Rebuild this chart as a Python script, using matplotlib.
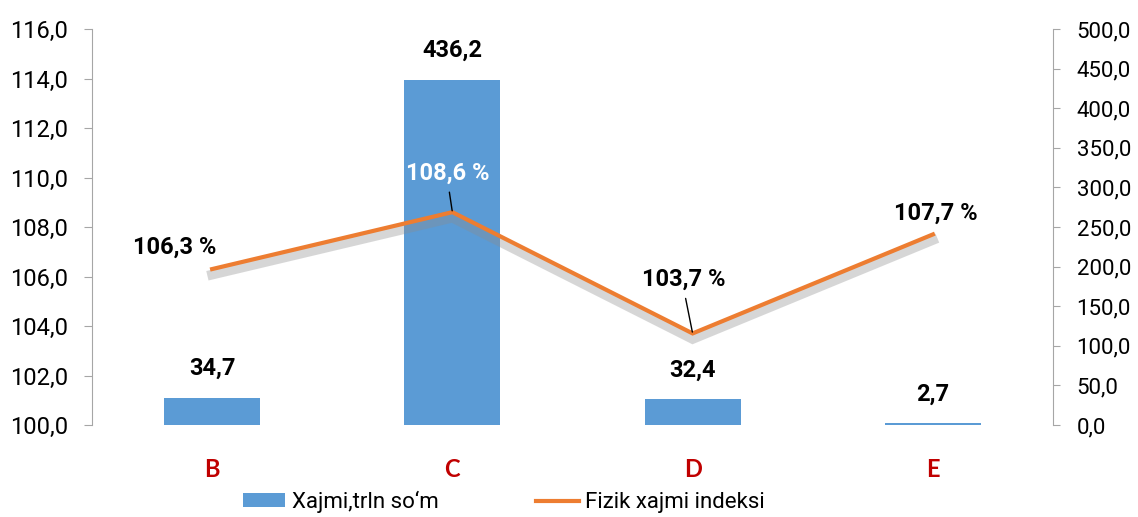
import matplotlib
matplotlib.use("Agg")
import matplotlib.pyplot as plt
import matplotlib.patheffects as pe
from matplotlib.lines import Line2D
from matplotlib.patches import Patch

categories = ["B", "C", "D", "E"]
volume = [34.7, 436.2, 32.4, 2.7]          # Xajmi, trln so'm (right axis)
index = [106.3, 108.6, 103.7, 107.7]       # Fizik xajmi indeksi (left axis)
left_ticks = [100, 102, 104, 106, 108, 110, 112, 114, 116]
right_ticks = [0, 50, 100, 150, 200, 250, 300, 350, 400, 450, 500]

BAR = "#5B9BD5"
LINE = "#ED7D31"
FONT = "Roboto"

W, H = 1138, 517
fig = plt.figure(figsize=(W / 100, H / 100), dpi=100)
ax = fig.add_axes([92 / W, 1 - 425 / H, (1053 - 92) / W, (425 - 29) / H])
ax2 = ax.twinx()

x = list(range(len(categories)))

# bars on secondary (right) axis
ax2.bar(x, volume, width=0.4, color=BAR, zorder=1)
ax2.set_ylim(0, 500)
ax2.set_yticks(right_ticks)
ax2.set_yticklabels([f"{v:.1f}".replace(".", ",") for v in right_ticks],
                    fontsize=16, family=FONT)

# line on primary axis, drawn above bars
ax.set_zorder(ax2.get_zorder() + 1)
ax.patch.set_visible(False)
ax.plot(x, index, color=LINE, lw=3, solid_joinstyle="miter",
        path_effects=[pe.SimpleLineShadow(offset=(0, -4), shadow_color="#8c8c8c",
                                          alpha=0.35, linewidth=7),
                      pe.Normal()], zorder=3)
ax.set_ylim(100, 116)
ax.set_yticks(left_ticks)
ax.set_yticklabels([f"{v:.1f}".replace(".", ",") for v in left_ticks],
                   fontsize=17, family=FONT)
ax.set_xlim(-0.5, len(categories) - 0.5)
ax.set_xticks(x)
ax.set_xticklabels(categories, fontsize=17, family="Lato", fontweight="bold",
                   color="#C00000")
ax.tick_params(axis="x", length=0, pad=24)

for a in (ax, ax2):
    for s in ("top", "bottom"):
        a.spines[s].set_visible(False)
ax.spines["right"].set_visible(False)
ax2.spines["left"].set_visible(False)
ax.spines["left"].set_color("#a6a6a6")
ax2.spines["right"].set_color("#a6a6a6")
ax.tick_params(axis="y", colors="#a6a6a6", labelcolor="black", length=6, pad=11)
ax2.tick_params(axis="y", colors="#a6a6a6", labelcolor="black", length=5, pad=12)
ax2.tick_params(axis="x", length=0)

# bar value labels
for xi, v in zip(x, volume):
    ax2.annotate(f"{v:.1f}".replace(".", ","), (xi, v), xytext=(0, 29),
                 textcoords="offset pixels", ha="center", va="center",
                 fontsize=17, family=FONT, fontweight="bold", color="black",
                 zorder=5)

# line value labels
offsets = [(-37, 22), (-5, 39), (-9, 54), (3, 21)]
colors = ["black", "white", "black", "black"]
leader = [False, True, True, False]
for xi, v, off, c, ld in zip(x, index, offsets, colors, leader):
    ax.annotate(f"{v:.1f} %".replace(".", ","), (xi, v), xytext=off,
                textcoords="offset pixels", ha="center", va="center",
                fontsize=17, family=FONT, fontweight="bold", color=c, zorder=6)
    if ld:
        ax.annotate("", (xi, v), xytext=(off[0] + 2, off[1] - 19),
                    textcoords="offset pixels",
                    arrowprops=dict(arrowstyle="-", color="black", lw=1,
                                    shrinkA=0, shrinkB=1), zorder=6)

handles = [Patch(facecolor=BAR, edgecolor="none"),
           Line2D([0], [0], color=LINE, lw=3)]
fig.legend(handles, ["Xajmi,trln so‘m", "Fizik xajmi indeksi"],
           loc="center", bbox_to_anchor=(504 / W, 1 - 502 / H), ncol=2,
           frameon=False, prop={"family": FONT, "size": 16},
           handlelength=1.9, handleheight=0.6, handletextpad=0.3,
           columnspacing=4.4)

fig.savefig("out.png", dpi=100)
